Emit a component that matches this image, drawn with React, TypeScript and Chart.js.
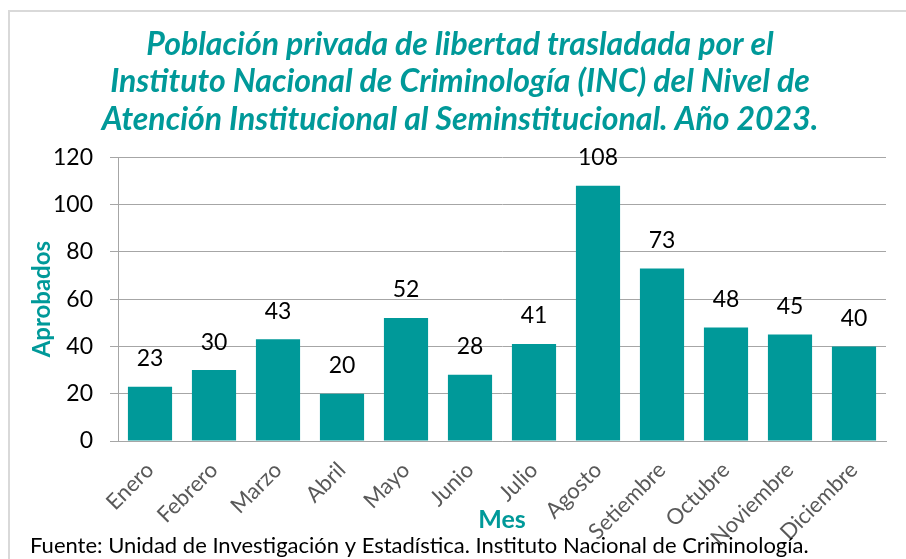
import React, { useEffect, useRef } from "react";
import { Chart, registerables } from "chart.js";

Chart.register(...registerables);

const TITLE_LINES = [
  "Población privada de libertad trasladada por el",
  "Instituto Nacional de Criminología (INC) del Nivel de",
  "Atención Institucional al Seminstitucional. Año 2023.",
];
const MONTHS = [
  "Enero", "Febrero", "Marzo", "Abril", "Mayo", "Junio",
  "Julio", "Agosto", "Setiembre", "Octubre", "Noviembre", "Diciembre",
];
const APROBADOS = [23, 30, 43, 20, 52, 28, 41, 108, 73, 48, 45, 40];
const Y_TITLE = "Aprobados";
const X_TITLE = "Mes";
const FOOTER = "Fuente: Unidad de Investigación y Estadística. Instituto Nacional de Criminología.";

const TEAL = "#009999";
const FONT = "Lato, 'Open Sans', sans-serif";

const labelPlugin = {
  id: "valueLabels",
  afterDatasetsDraw(chart: any) {
    const ctx = chart.ctx;
    const meta = chart.getDatasetMeta(0);
    ctx.save();
    ctx.font = `23px ${FONT}`;
    ctx.fillStyle = "#000";
    ctx.textAlign = "center";
    ctx.textBaseline = "middle";
    meta.data.forEach((bar: any, i: number) => {
      ctx.fillText(String(APROBADOS[i]), bar.x, bar.y - 28);
    });
    ctx.restore();
  },
};

const framePlugin = {
  id: "frame",
  afterDraw(chart: any) {
    const ctx = chart.ctx;
    ctx.save();
    ctx.strokeStyle = "#d9d9d9";
    ctx.lineWidth = 2;
    ctx.beginPath();
    ctx.moveTo(9, chart.height + 5);
    ctx.lineTo(9, 11);
    ctx.lineTo(chart.width + 5, 11);
    ctx.stroke();
    ctx.font = `22px ${FONT}`;
    ctx.fillStyle = "#000";
    ctx.textAlign = "left";
    ctx.textBaseline = "middle";
    ctx.fillText(FOOTER, 30, 546);
    ctx.restore();
  },
};

export default function App() {
  const ref = useRef<HTMLCanvasElement>(null);
  useEffect(() => {
    document.body.style.margin = "0";
    const chart = new Chart(ref.current!, {
      type: "bar",
      data: {
        labels: MONTHS,
        datasets: [
          {
            data: APROBADOS,
            backgroundColor: TEAL,
            categoryPercentage: 1,
            barPercentage: 0.69,
          },
        ],
      },
      plugins: [labelPlugin, framePlugin],
      options: {
        animation: false,
        responsive: false,
        layout: { padding: { left: 34, right: 20, top: 0, bottom: 0 } },
        plugins: {
          legend: { display: false },
          tooltip: { enabled: false },
          title: {
            display: true,
            text: TITLE_LINES,
            color: TEAL,
            font: { family: FONT, size: 32, weight: "bold", style: "italic", lineHeight: 1.17 },
            padding: { top: 26, bottom: 19 },
          },
        },
        scales: {
          x: {
            grid: { display: false },
            border: { display: true, color: "#a6a6a6", width: 1 },
            ticks: {
              color: "#595959",
              font: { family: FONT, size: 22 },
              maxRotation: 45,
              minRotation: 45,
              padding: 8,
            },
            title: {
              display: true,
              text: X_TITLE,
              color: TEAL,
              font: { family: FONT, size: 25, weight: "bold", lineHeight: 1.2 },
              padding: { top: 0, bottom: 24 },
            },
            afterFit(scale: any) {
              scale.height = 118;
            },
          },
          y: {
            min: 0,
            max: 120,
            ticks: {
              stepSize: 20,
              color: "#000",
              font: { family: FONT, size: 23 },
              padding: 17,
            },
            grid: { color: "#a6a6a6", lineWidth: 1, tickLength: 8 },
            border: { display: true, color: "#a6a6a6", width: 1 },
            title: {
              display: true,
              text: Y_TITLE,
              color: TEAL,
              font: { family: FONT, size: 24, weight: "bold", lineHeight: 1 },
              padding: { top: -4, bottom: 0 },
            },
            afterFit(scale: any) {
              scale.width = 84;
            },
          },
        },
      },
    });
    return () => chart.destroy();
  }, []);
  return <canvas ref={ref} width={906} height={559} style={{ display: "block" }} />;
}
